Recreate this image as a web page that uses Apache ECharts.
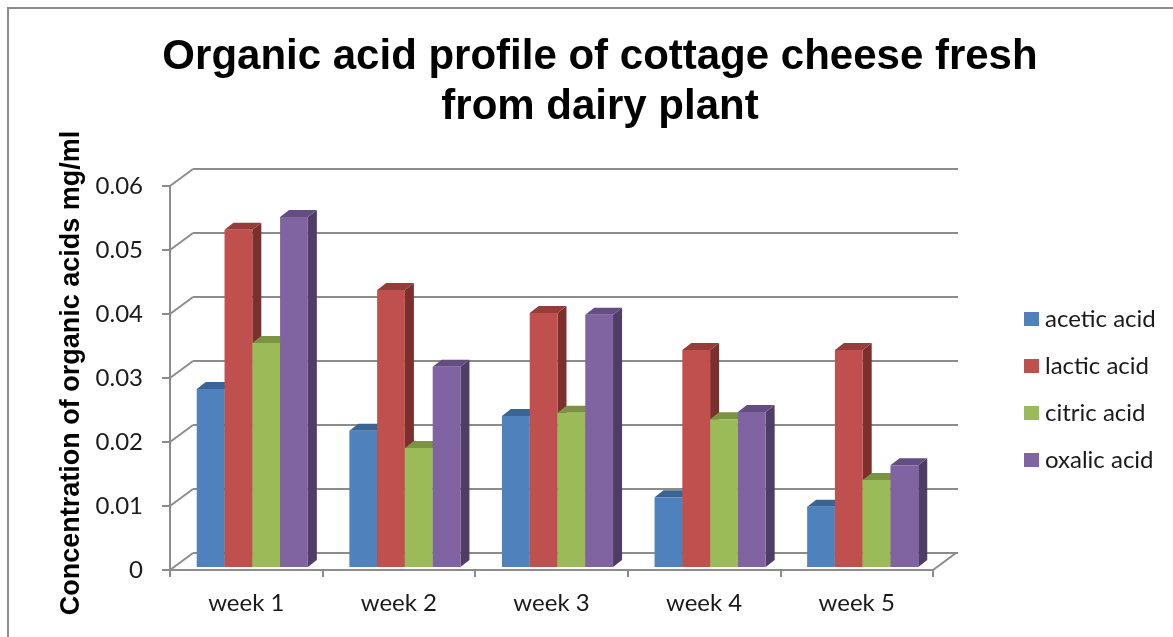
<!DOCTYPE html>
<html>
<head>
<meta charset="utf-8">
<title>Organic acid profile of cottage cheese fresh from dairy plant</title>
<script src="https://cdn.jsdelivr.net/npm/echarts@6/dist/echarts.min.js"></script>
<style>
  html, body { margin: 0; padding: 0; background: #ffffff; }
  #chart { width: 1173px; height: 637px; }
</style>
</head>
<body>
<div id="chart"></div>
<script>
// Weeks on the category axis
const categories = ['week 1', 'week 2', 'week 3', 'week 4', 'week 5'];

// Concentrations in mg/ml
const aceticAcid = [0.0278, 0.0213, 0.0236, 0.0109, 0.0094];
const lacticAcid = [0.0527, 0.0433, 0.0397, 0.0339, 0.0339];
const citricAcid = [0.0350, 0.0186, 0.0241, 0.0231, 0.0136];
const oxalicAcid = [0.0547, 0.0313, 0.0394, 0.0242, 0.0159];

const seriesNames = ['acetic acid', 'lactic acid', 'citric acid', 'oxalic acid'];

// Value-axis ticks (also used for the wall connectors)
const yTicks = [0, 0.01, 0.02, 0.03, 0.04, 0.05, 0.06];

// Face colours: front, top, side
const palette = [
  { front: '#4F81BD', top: '#3A6494', side: '#2F5078' },
  { front: '#C0504D', top: '#963D3B', side: '#7C302E' },
  { front: '#9BBB59', top: '#7A9444', side: '#637A36' },
  { front: '#8064A2', top: '#644D80', side: '#4F3D66' }
];

const LINE = '#8C8C8C';
const DEPTH_X = 23, DEPTH_Y = -17;      // floor / wall depth
const BAR_DX = 9, BAR_DY = -7;          // bar depth
const BAR_SHIFT_X = 6, BAR_SHIFT_Y = -3;

function barRenderer(k) {
  return function (params, api) {
    const idx = api.value(0);
    const v = api.value(1);
    const base = api.coord([idx, 0]);
    const catW = api.size([1, 0])[0];
    const bw = catW * 0.182;
    const x0 = base[0] - 2 * bw + BAR_SHIFT_X + k * bw;
    const yb = base[1] + BAR_SHIFT_Y;
    const yt = api.coord([idx, v])[1] + BAR_SHIFT_Y;
    const c = palette[k];
    return {
      type: 'group',
      children: [
        { type: 'polygon', shape: { points: [[x0 + bw, yt], [x0 + bw + BAR_DX, yt + BAR_DY], [x0 + bw + BAR_DX, yb + BAR_DY], [x0 + bw, yb]] },
          style: { fill: c.side } },
        { type: 'polygon', shape: { points: [[x0, yt], [x0 + BAR_DX, yt + BAR_DY], [x0 + bw + BAR_DX, yt + BAR_DY], [x0 + bw, yt]] },
          style: { fill: c.top } },
        { type: 'rect', shape: { x: x0, y: yt, width: bw, height: yb - yt },
          style: { fill: c.front } }
      ]
    };
  };
}

const valueSets = [aceticAcid, lacticAcid, citricAcid, oxalicAcid];

const barSeries = valueSets.map((vals, k) => ({
  name: seriesNames[k],
  type: 'custom',
  xAxisIndex: 0,
  yAxisIndex: 0,
  z: 5,
  itemStyle: { color: palette[k].front },
  renderItem: barRenderer(k),
  data: vals.map((v, i) => [i, v])
}));

// Connectors from the front value axis to the back wall
const wallConnectors = {
  type: 'custom',
  xAxisIndex: 0,
  yAxisIndex: 0,
  silent: true,
  z: 3,
  renderItem: function (params, api) {
    const v = api.value(1);
    const p = api.coord([0, v]);
    const catW = api.size([1, 0])[0];
    const x = p[0] - catW / 2;
    return {
      type: 'line',
      shape: { x1: x, y1: p[1], x2: x + DEPTH_X, y2: p[1] + DEPTH_Y },
      style: { stroke: LINE, lineWidth: 2 }
    };
  },
  data: yTicks.map(v => [0, v])
};

// Right edge of the floor
const floorEdge = {
  type: 'custom',
  xAxisIndex: 0,
  yAxisIndex: 0,
  silent: true,
  z: 3,
  renderItem: function (params, api) {
    const p = api.coord([api.value(0), 0]);
    const catW = api.size([1, 0])[0];
    const x = p[0] + catW / 2;
    return {
      type: 'line',
      shape: { x1: x, y1: p[1], x2: x + DEPTH_X, y2: p[1] + DEPTH_Y },
      style: { stroke: LINE, lineWidth: 2 }
    };
  },
  data: [[categories.length - 1, 0]]
};

const chart = echarts.init(document.getElementById('chart'), null, { renderer: 'canvas' });

chart.setOption({
  backgroundColor: '#ffffff',
  animation: false,
  title: {
    text: 'Organic acid profile of cottage cheese fresh\nfrom dairy plant',
    left: 595,
    top: 27,
    textAlign: 'center',
    textStyle: {
      fontFamily: 'Liberation Sans',
      fontWeight: 'bold',
      fontSize: 42,
      lineHeight: 50,
      color: '#000000'
    }
  },
  legend: {
    orient: 'vertical',
    left: 1019,
    top: 302,
    itemWidth: 15,
    itemHeight: 14,
    itemGap: 23,
    icon: 'rect',
    data: seriesNames,
    textStyle: { fontFamily: 'Lato', fontSize: 24, color: '#1A1A1A', padding: [0, 0, 0, 1] }
  },
  graphic: [
    { type: 'rect', shape: { x: 8, y: 8, width: 1300, height: 800 },
      style: { fill: 'none', stroke: '#8C8C8C', lineWidth: 2 }, silent: true, z: -10 }
  ],
  grid: [
    { left: 170, top: 186, width: 763, height: 384 },
    { left: 193, top: 169, width: 765, height: 384 }
  ],
  xAxis: [
    {
      gridIndex: 0,
      type: 'category',
      data: categories,
      boundaryGap: true,
      axisLine: { show: true, lineStyle: { color: LINE, width: 2 } },
      axisTick: { show: true, length: 7, inside: false, lineStyle: { color: LINE, width: 2 } },
      axisLabel: { margin: 21, fontFamily: 'Lato', fontSize: 24, color: '#1A1A1A' },
      splitLine: { show: false }
    },
    {
      gridIndex: 1,
      type: 'category',
      data: categories,
      show: false
    }
  ],
  yAxis: [
    {
      gridIndex: 0,
      type: 'value',
      min: 0,
      max: 0.06,
      interval: 0.01,
      name: 'Concentration of organic acids mg/ml',
      nameLocation: 'middle',
      nameRotate: 90,
      nameGap: 78,
      nameTextStyle: { fontFamily: 'Liberation Sans', fontWeight: 'bold', fontSize: 27, color: '#000000',
        padding: [0, 0, 0, 10] },
      axisLine: { show: true, lineStyle: { color: LINE, width: 2 } },
      axisTick: { show: true, length: 8, lineStyle: { color: LINE, width: 2 } },
      axisLabel: { margin: 27, fontFamily: 'Lato', fontSize: 24, color: '#1A1A1A',
        formatter: v => (v === 0 ? '0' : String(+v.toFixed(2))) },
      splitLine: { show: false }
    },
    {
      gridIndex: 1,
      type: 'value',
      min: 0,
      max: 0.06,
      interval: 0.01,
      axisLine: { show: false },
      axisTick: { show: false },
      axisLabel: { show: false },
      splitLine: { show: true, lineStyle: { color: LINE, width: 2 } }
    }
  ],
  series: [wallConnectors, floorEdge].concat(barSeries)
});
</script>
</body>
</html>
